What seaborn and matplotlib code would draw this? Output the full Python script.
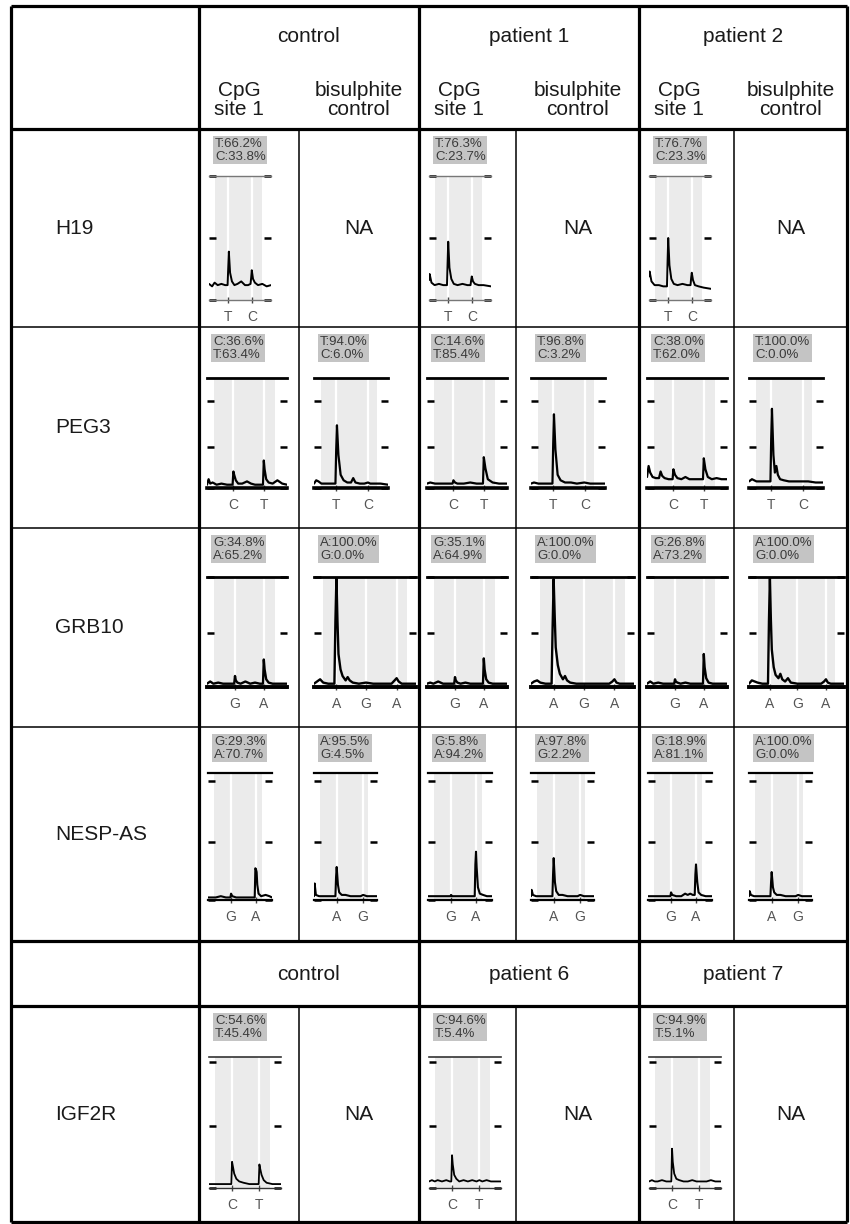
import matplotlib
matplotlib.use("Agg")
import matplotlib.pyplot as plt
import seaborn as sns

sns.set_theme(style="white")
plt.rcParams["font.family"] = ["Liberation Sans", "DejaVu Sans"]

W, H = 850, 1224

# table grid (pixels)
col_edges = [11, 199, 299, 419, 516, 639, 734, 847]
row_edges = [6, 129, 327, 528, 727, 941, 1006, 1222]

groups = ["control", "patient 1", "patient 2"]
groups_igf = ["control", "patient 6", "patient 7"]
genes = ["H19", "PEG3", "GRB10", "NESP-AS", "IGF2R"]
gene_rows = [1, 2, 3, 4, 6]

# ---- pyrogram traces (x: 0-100 across panel, y: fraction of panel height)
h19_ctrl_x = [0, 5, 9, 14, 20, 26, 30, 31, 32, 34, 37, 41, 46, 52, 58, 63, 67, 68, 69, 71, 74, 79, 86, 93, 100]
h19_ctrl_y = [0.13, 0.11, 0.14, 0.12, 0.13, 0.12, 0.12, 0.26, 0.39, 0.22, 0.15, 0.12, 0.13, 0.15, 0.12, 0.12, 0.13, 0.18, 0.24, 0.17, 0.14, 0.12, 0.13, 0.11, 0.12]
h19_p1_x = [0, 1, 4, 9, 16, 23, 29, 30, 31, 33, 36, 40, 46, 54, 62, 67, 68, 69, 71, 74, 80, 88, 100]
h19_p1_y = [0.16, 0.21, 0.14, 0.12, 0.13, 0.12, 0.12, 0.3, 0.47, 0.26, 0.17, 0.13, 0.12, 0.13, 0.12, 0.12, 0.16, 0.19, 0.15, 0.13, 0.12, 0.12, 0.11]
h19_p2_x = [0, 1, 4, 9, 16, 23, 29, 30, 31, 33, 36, 40, 46, 54, 62, 67, 68, 69, 71, 74, 80, 88, 100]
h19_p2_y = [0.19, 0.23, 0.15, 0.12, 0.12, 0.11, 0.11, 0.32, 0.5, 0.28, 0.17, 0.13, 0.12, 0.13, 0.12, 0.12, 0.18, 0.22, 0.16, 0.12, 0.11, 0.1, 0.09]

peg3_ctrl_cpg_x = [0, 2, 4, 7, 12, 18, 25, 32, 33, 34, 36, 39, 44, 50, 55, 60, 66, 70, 71, 72, 74, 77, 82, 88, 94, 100]
peg3_ctrl_cpg_y = [0.03, 0.08, 0.04, 0.05, 0.03, 0.04, 0.03, 0.03, 0.15, 0.12, 0.07, 0.04, 0.04, 0.06, 0.04, 0.03, 0.03, 0.03, 0.25, 0.17, 0.08, 0.05, 0.04, 0.07, 0.04, 0.03]
peg3_ctrl_bis_x = [0, 3, 6, 10, 16, 24, 29, 30, 31, 33, 36, 40, 45, 50, 53, 56, 62, 68, 73, 76, 82, 90, 100]
peg3_ctrl_bis_y = [0.04, 0.07, 0.06, 0.04, 0.04, 0.04, 0.04, 0.35, 0.57, 0.3, 0.12, 0.07, 0.05, 0.05, 0.09, 0.05, 0.04, 0.04, 0.05, 0.04, 0.04, 0.04, 0.03]
peg3_p1_cpg_x = [0, 4, 10, 18, 26, 32, 33, 35, 38, 46, 54, 62, 70, 71, 73, 76, 82, 90, 100]
peg3_p1_cpg_y = [0.04, 0.05, 0.04, 0.04, 0.04, 0.04, 0.07, 0.05, 0.04, 0.04, 0.05, 0.04, 0.04, 0.28, 0.18, 0.08, 0.05, 0.04, 0.04]
peg3_p1_bis_x = [0, 4, 10, 18, 26, 29, 30, 31, 33, 36, 40, 46, 54, 62, 72, 80, 90, 100]
peg3_p1_bis_y = [0.04, 0.05, 0.04, 0.04, 0.04, 0.04, 0.4, 0.67, 0.35, 0.12, 0.07, 0.05, 0.05, 0.04, 0.05, 0.04, 0.04, 0.04]
peg3_p2_cpg_x = [0, 2, 4, 7, 11, 15, 17, 19, 22, 27, 32, 33, 35, 38, 43, 48, 53, 58, 64, 70, 71, 73, 76, 81, 87, 93, 100]
peg3_p2_cpg_y = [0.1, 0.2, 0.14, 0.1, 0.09, 0.09, 0.15, 0.11, 0.09, 0.08, 0.08, 0.17, 0.12, 0.09, 0.08, 0.1, 0.08, 0.08, 0.08, 0.08, 0.27, 0.17, 0.1, 0.08, 0.09, 0.08, 0.08]
peg3_p2_bis_x = [0, 4, 10, 18, 26, 29, 30, 31, 33, 35, 37, 39, 42, 47, 54, 62, 72, 80, 90, 100]
peg3_p2_bis_y = [0.06, 0.08, 0.06, 0.06, 0.06, 0.06, 0.45, 0.72, 0.3, 0.14, 0.2, 0.12, 0.08, 0.07, 0.06, 0.06, 0.06, 0.06, 0.05, 0.05]

grb_ctrl_cpg_x = [0, 4, 8, 14, 20, 27, 34, 35, 36, 38, 42, 48, 54, 60, 66, 70, 71, 72, 74, 77, 82, 90, 100]
grb_ctrl_cpg_y = [0.03, 0.05, 0.03, 0.04, 0.03, 0.03, 0.03, 0.1, 0.06, 0.04, 0.03, 0.05, 0.03, 0.04, 0.03, 0.03, 0.25, 0.16, 0.07, 0.04, 0.03, 0.03, 0.03]
grb_ctrl_bis_x = [0, 3, 6, 9, 14, 20, 21, 22, 23, 24, 26, 28, 31, 33, 35, 38, 44, 51, 58, 66, 76, 79, 81, 83, 86, 92, 100]
grb_ctrl_bis_y = [0.03, 0.05, 0.07, 0.04, 0.03, 0.03, 0.6, 1.0, 0.6, 0.3, 0.16, 0.1, 0.06, 0.09, 0.06, 0.04, 0.03, 0.04, 0.03, 0.03, 0.03, 0.06, 0.08, 0.05, 0.03, 0.03, 0.03]
grb_p1_cpg_x = [0, 4, 8, 14, 20, 27, 34, 35, 36, 38, 42, 48, 54, 60, 66, 70, 71, 72, 74, 77, 82, 90, 100]
grb_p1_cpg_y = [0.03, 0.04, 0.03, 0.05, 0.03, 0.03, 0.03, 0.09, 0.06, 0.04, 0.03, 0.04, 0.03, 0.03, 0.03, 0.03, 0.26, 0.16, 0.07, 0.04, 0.03, 0.03, 0.03]
grb_p1_bis_x = [0, 3, 6, 9, 14, 20, 21, 22, 23, 24, 26, 28, 31, 33, 35, 38, 44, 51, 58, 66, 76, 79, 81, 83, 86, 92, 100]
grb_p1_bis_y = [0.03, 0.05, 0.06, 0.04, 0.03, 0.03, 0.55, 0.98, 0.65, 0.36, 0.2, 0.12, 0.07, 0.1, 0.06, 0.04, 0.03, 0.03, 0.03, 0.03, 0.03, 0.05, 0.07, 0.04, 0.03, 0.03, 0.03]
grb_p2_cpg_x = [0, 4, 8, 14, 20, 27, 34, 35, 36, 38, 42, 48, 54, 60, 66, 70, 71, 72, 74, 77, 82, 90, 100]
grb_p2_cpg_y = [0.03, 0.05, 0.03, 0.04, 0.03, 0.03, 0.03, 0.07, 0.05, 0.04, 0.03, 0.04, 0.03, 0.03, 0.03, 0.03, 0.3, 0.18, 0.08, 0.04, 0.03, 0.03, 0.03]
grb_p2_bis_x = [0, 3, 6, 9, 14, 20, 21, 22, 23, 24, 26, 28, 31, 33, 35, 38, 41, 44, 51, 58, 66, 76, 79, 81, 83, 86, 92, 100]
grb_p2_bis_y = [0.03, 0.06, 0.05, 0.04, 0.03, 0.03, 0.6, 1.0, 0.62, 0.34, 0.18, 0.11, 0.08, 0.12, 0.07, 0.05, 0.08, 0.04, 0.03, 0.03, 0.03, 0.03, 0.05, 0.07, 0.04, 0.03, 0.03, 0.03]

nesp_ctrl_cpg_x = [0, 6, 12, 20, 28, 35, 36, 38, 44, 52, 60, 68, 73, 74, 75, 76, 77, 79, 83, 90, 96, 100]
nesp_ctrl_cpg_y = [0.02, 0.02, 0.02, 0.03, 0.02, 0.02, 0.05, 0.03, 0.02, 0.02, 0.02, 0.02, 0.02, 0.25, 0.24, 0.22, 0.12, 0.05, 0.03, 0.04, 0.03, 0.02]
nesp_ctrl_bis_x = [0, 1, 3, 8, 16, 26, 34, 35, 36, 38, 40, 44, 50, 58, 66, 74, 78, 84, 92, 100]
nesp_ctrl_bis_y = [0.03, 0.13, 0.04, 0.03, 0.03, 0.03, 0.03, 0.18, 0.26, 0.12, 0.06, 0.04, 0.04, 0.03, 0.03, 0.03, 0.04, 0.03, 0.03, 0.03]
nesp_p1_cpg_x = [0, 6, 12, 20, 28, 35, 36, 38, 44, 52, 60, 68, 73, 74, 75, 76, 78, 81, 86, 92, 100]
nesp_p1_cpg_y = [0.03, 0.03, 0.03, 0.03, 0.03, 0.03, 0.04, 0.03, 0.03, 0.03, 0.03, 0.03, 0.03, 0.28, 0.38, 0.26, 0.1, 0.05, 0.04, 0.03, 0.03]
nesp_p1_bis_x = [0, 1, 3, 8, 16, 26, 34, 35, 36, 38, 40, 44, 50, 58, 66, 74, 78, 84, 92, 100]
nesp_p1_bis_y = [0.03, 0.08, 0.04, 0.03, 0.03, 0.03, 0.03, 0.2, 0.33, 0.14, 0.07, 0.04, 0.04, 0.03, 0.03, 0.03, 0.04, 0.03, 0.03, 0.03]
nesp_p2_cpg_x = [0, 6, 12, 20, 28, 35, 36, 38, 44, 52, 58, 62, 66, 70, 73, 74, 75, 77, 79, 83, 90, 100]
nesp_p2_cpg_y = [0.03, 0.03, 0.03, 0.03, 0.03, 0.03, 0.06, 0.04, 0.03, 0.03, 0.05, 0.04, 0.05, 0.04, 0.04, 0.2, 0.28, 0.14, 0.06, 0.04, 0.03, 0.03]
nesp_p2_bis_x = [0, 1, 3, 8, 16, 26, 34, 35, 36, 38, 40, 44, 50, 58, 66, 74, 78, 84, 92, 100]
nesp_p2_bis_y = [0.03, 0.07, 0.04, 0.03, 0.03, 0.03, 0.03, 0.14, 0.22, 0.1, 0.06, 0.04, 0.04, 0.03, 0.03, 0.03, 0.04, 0.03, 0.03, 0.03]

igf_ctrl_x = [0, 6, 12, 20, 28, 31, 32, 33, 35, 38, 42, 48, 56, 64, 69, 70, 71, 73, 76, 80, 88, 100]
igf_ctrl_y = [0.03, 0.03, 0.03, 0.03, 0.03, 0.03, 0.2, 0.17, 0.11, 0.07, 0.05, 0.04, 0.03, 0.03, 0.03, 0.18, 0.15, 0.1, 0.06, 0.04, 0.03, 0.03]
igf_p6_x = [0, 4, 8, 12, 18, 24, 29, 31, 32, 33, 35, 38, 42, 48, 54, 60, 66, 70, 74, 80, 86, 92, 100]
igf_p6_y = [0.05, 0.06, 0.05, 0.06, 0.05, 0.06, 0.05, 0.05, 0.25, 0.18, 0.1, 0.07, 0.05, 0.06, 0.05, 0.06, 0.05, 0.06, 0.05, 0.06, 0.05, 0.05, 0.05]
igf_p7_x = [0, 4, 8, 12, 18, 24, 29, 31, 32, 33, 35, 38, 42, 48, 54, 60, 66, 70, 74, 80, 86, 92, 100]
igf_p7_y = [0.05, 0.06, 0.05, 0.05, 0.06, 0.05, 0.05, 0.05, 0.3, 0.2, 0.11, 0.07, 0.06, 0.05, 0.05, 0.06, 0.05, 0.05, 0.05, 0.05, 0.06, 0.05, 0.05]

# percentage labels
h19_pct = ["T:66.2%\nC:33.8%", "T:76.3%\nC:23.7%", "T:76.7%\nC:23.3%"]
peg3_pct = ["C:36.6%\nT:63.4%", "T:94.0%\nC:6.0%", "C:14.6%\nT:85.4%", "T:96.8%\nC:3.2%", "C:38.0%\nT:62.0%", "T:100.0%\nC:0.0%"]
grb_pct = ["G:34.8%\nA:65.2%", "A:100.0%\nG:0.0%", "G:35.1%\nA:64.9%", "A:100.0%\nG:0.0%", "G:26.8%\nA:73.2%", "A:100.0%\nG:0.0%"]
nesp_pct = ["G:29.3%\nA:70.7%", "A:95.5%\nG:4.5%", "G:5.8%\nA:94.2%", "A:97.8%\nG:2.2%", "G:18.9%\nA:81.1%", "A:100.0%\nG:0.0%"]
igf_pct = ["C:54.6%\nT:45.4%", "C:94.6%\nT:5.4%", "C:94.9%\nT:5.1%"]

# panel types: x offset in cell, width, base letters and their positions
kinds = {
    "h19": (10, 62, ["T", "C"], [31, 69]),
    "peg3_cpg": (8, 80, ["C", "T"], [33, 71]),
    "peg3_bis": (15, 74, ["T", "C"], [30, 73]),
    "grb_cpg": (8, 80, ["G", "A"], [35, 71]),
    "grb_bis": (15, 103, ["A", "G", "A"], [22, 51, 81]),
    "nesp_cpg": (9, 64, ["G", "A"], [36, 75]),
    "nesp_bis": (15, 63, ["A", "G"], [36, 78]),
    "igf": (10, 72, ["C", "T"], [32, 70]),
}
# per gene: top/bottom offsets in cell, y tick levels, top and bottom line styles, trace width
row_style = {
    "H19": (47, 171, [0, 0.5, 1], (1.0, "#777777"), (1.0, "#777777"), 1.4),
    "PEG3": (51, 161, [0, 0.37, 0.79], (2.0, "black"), (2.6, "black"), 1.6),
    "GRB10": (49, 159, [0, 0.49, 1], (2.0, "black"), (2.8, "black"), 1.7),
    "NESP-AS": (46, 173, [0, 0.46, 0.94], (1.6, "black"), (1.6, "black"), 1.5),
    "IGF2R": (51, 182, [0, 0.47, 0.96], (1.2, "#333333"), (1.0, "#333333"), 1.3),
}

panels = [
    ("H19", 0, "h19", h19_pct[0], h19_ctrl_x, h19_ctrl_y),
    ("H19", 2, "h19", h19_pct[1], h19_p1_x, h19_p1_y),
    ("H19", 4, "h19", h19_pct[2], h19_p2_x, h19_p2_y),
    ("PEG3", 0, "peg3_cpg", peg3_pct[0], peg3_ctrl_cpg_x, peg3_ctrl_cpg_y),
    ("PEG3", 1, "peg3_bis", peg3_pct[1], peg3_ctrl_bis_x, peg3_ctrl_bis_y),
    ("PEG3", 2, "peg3_cpg", peg3_pct[2], peg3_p1_cpg_x, peg3_p1_cpg_y),
    ("PEG3", 3, "peg3_bis", peg3_pct[3], peg3_p1_bis_x, peg3_p1_bis_y),
    ("PEG3", 4, "peg3_cpg", peg3_pct[4], peg3_p2_cpg_x, peg3_p2_cpg_y),
    ("PEG3", 5, "peg3_bis", peg3_pct[5], peg3_p2_bis_x, peg3_p2_bis_y),
    ("GRB10", 0, "grb_cpg", grb_pct[0], grb_ctrl_cpg_x, grb_ctrl_cpg_y),
    ("GRB10", 1, "grb_bis", grb_pct[1], grb_ctrl_bis_x, grb_ctrl_bis_y),
    ("GRB10", 2, "grb_cpg", grb_pct[2], grb_p1_cpg_x, grb_p1_cpg_y),
    ("GRB10", 3, "grb_bis", grb_pct[3], grb_p1_bis_x, grb_p1_bis_y),
    ("GRB10", 4, "grb_cpg", grb_pct[4], grb_p2_cpg_x, grb_p2_cpg_y),
    ("GRB10", 5, "grb_bis", grb_pct[5], grb_p2_bis_x, grb_p2_bis_y),
    ("NESP-AS", 0, "nesp_cpg", nesp_pct[0], nesp_ctrl_cpg_x, nesp_ctrl_cpg_y),
    ("NESP-AS", 1, "nesp_bis", nesp_pct[1], nesp_ctrl_bis_x, nesp_ctrl_bis_y),
    ("NESP-AS", 2, "nesp_cpg", nesp_pct[2], nesp_p1_cpg_x, nesp_p1_cpg_y),
    ("NESP-AS", 3, "nesp_bis", nesp_pct[3], nesp_p1_bis_x, nesp_p1_bis_y),
    ("NESP-AS", 4, "nesp_cpg", nesp_pct[4], nesp_p2_cpg_x, nesp_p2_cpg_y),
    ("NESP-AS", 5, "nesp_bis", nesp_pct[5], nesp_p2_bis_x, nesp_p2_bis_y),
    ("IGF2R", 0, "igf", igf_pct[0], igf_ctrl_x, igf_ctrl_y),
    ("IGF2R", 2, "igf", igf_pct[1], igf_p6_x, igf_p6_y),
    ("IGF2R", 4, "igf", igf_pct[2], igf_p7_x, igf_p7_y),
]

fig = plt.figure(figsize=(W / 100, H / 100), dpi=100)
fig.patch.set_facecolor("white")

# base axes in pixel coordinates for the table
base = fig.add_axes([0, 0, 1, 1])
base.set_xlim(0, W)
base.set_ylim(H, 0)
base.axis("off")

thick, thin = 2.3, 1.1
for i, y in enumerate(row_edges):
    lw = thick if i in (0, 1, 5, 6, 7) else thin
    base.hlines(y, col_edges[0], col_edges[-1], color="black", lw=lw)
for x in [col_edges[0], col_edges[1], col_edges[3], col_edges[5], col_edges[-1]]:
    base.vlines(x, row_edges[0], row_edges[-1], color="black", lw=thick)
for x in [col_edges[2], col_edges[4], col_edges[6]]:
    base.vlines(x, row_edges[1], row_edges[5], color="black", lw=thin)
    base.vlines(x, row_edges[6], row_edges[-1], color="black", lw=thin)

txt = dict(fontsize=15, color="#1a1a1a")
for g, lab in enumerate(groups):
    xl, xr = col_edges[1 + 2 * g], col_edges[3 + 2 * g]
    base.text((xl + xr) / 2, 36, lab, ha="center", va="center", **txt)
    base.text(xl + 40, 100, "CpG\nsite 1", ha="center", va="center", linespacing=1.05, **txt)
    base.text((col_edges[2 + 2 * g] + col_edges[3 + 2 * g]) / 2, 100, "bisulphite\ncontrol",
              ha="center", va="center", linespacing=1.05, **txt)
for g, lab in enumerate(groups_igf):
    xl, xr = col_edges[1 + 2 * g], col_edges[3 + 2 * g]
    base.text((xl + xr) / 2, 975, lab, ha="center", va="center", **txt)
for gene, r in zip(genes, gene_rows):
    base.text(55, (row_edges[r] + row_edges[r + 1]) / 2, gene, ha="left", va="center", **txt)

for r in (1, 6):
    for g in range(3):
        xc = (col_edges[2 + 2 * g] + col_edges[3 + 2 * g]) / 2
        base.text(xc, (row_edges[r] + row_edges[r + 1]) / 2, "NA", ha="center", va="center", **txt)

# pyrogram panels
for gene, col, kind, pct, xs, ys in panels:
    dx, w, letters, pos = kinds[kind]
    top_off, bot_off, yt, top_ln, bot_ln, lw = row_style[gene]
    r = gene_rows[genes.index(gene)]
    cell_top = row_edges[r]
    cell_w = col_edges[2 + col] - col_edges[1 + col]
    w = min(w, cell_w - dx - 3)
    x0 = col_edges[1 + col] + dx
    y0 = cell_top + top_off
    y1 = cell_top + bot_off
    ax = fig.add_axes([x0 / W, 1 - y1 / H, w / W, (y1 - y0) / H])
    ax.set_facecolor("none")
    ax.axvspan(9, 91 if len(letters) == 3 else 85, color="#ebebeb", lw=0, zorder=0)
    for p in pos:
        ax.axvline(p, color="white", lw=1.6, zorder=0.5)
    sns.lineplot(x=xs, y=ys, ax=ax, color="black", lw=lw, estimator=None, sort=False)
    ax.set_xlim(0, 100)
    ax.set_ylim(0, 1)
    ax.set_yticks(yt)
    ax.set_yticklabels([])
    ax.tick_params(axis="y", left=True, right=True, direction="in", length=5, width=1.8, color="black")
    ax.set_xticks(pos)
    ax.set_xticklabels(letters)
    ax.tick_params(axis="x", bottom=True, direction="inout", length=4, width=1, color="#444444",
                   labelcolor="#555555", labelsize=10, pad=5)
    ax.spines["left"].set_visible(False)
    ax.spines["right"].set_visible(False)
    ax.spines["top"].set_linewidth(top_ln[0])
    ax.spines["top"].set_color(top_ln[1])
    ax.spines["bottom"].set_linewidth(bot_ln[0])
    ax.spines["bottom"].set_color(bot_ln[1])
    ax.set_xlabel("")
    ax.set_ylabel("")
    ax.grid(False)
    base.text(x0 + 6, cell_top + 9, pct, ha="left", va="top", fontsize=9.5, color="#3a3a3a",
              linespacing=1.1, bbox=dict(boxstyle="square,pad=0.12", fc="#c4c4c4", ec="none"))

fig.savefig("out.png", dpi=100, facecolor="white")
